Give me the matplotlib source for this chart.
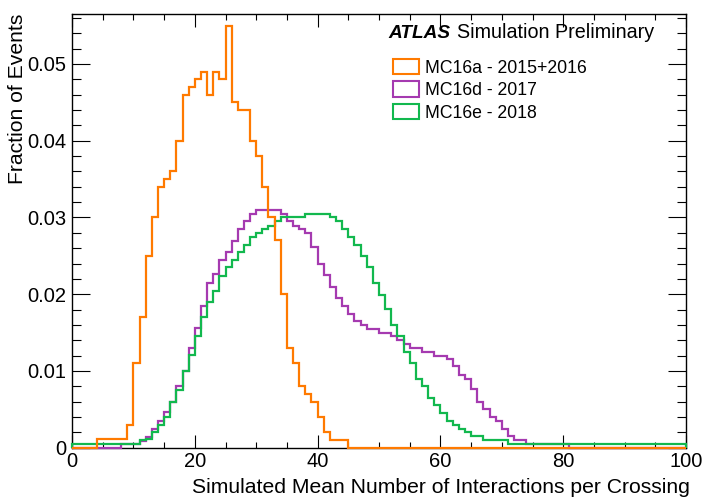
import numpy as np
import matplotlib.pyplot as plt
from matplotlib.patches import Patch
from matplotlib.ticker import MultipleLocator, FuncFormatter

plt.rcParams['font.family'] = ['Liberation Sans', 'DejaVu Sans']

# pileup profiles, one bin per unit of <mu>, 0..100
mu_edges = np.arange(0, 101, 1)

mc16a = [0, 0, 0, 0, 0.0011, 0.0011, 0.0011, 0.0011, 0.0011, 0.0030,
         0.0110, 0.0170, 0.0250, 0.0300, 0.0340, 0.0350, 0.0360, 0.0400, 0.0460, 0.0470,
         0.0480, 0.0490, 0.0460, 0.0490, 0.0480, 0.0550, 0.0450, 0.0440, 0.0440, 0.0400,
         0.0380, 0.0340, 0.0300, 0.0270, 0.0200, 0.0130, 0.0110, 0.0081, 0.0070, 0.0060,
         0.0040, 0.0020, 0.0010, 0.0010, 0.0010, 0, 0, 0, 0, 0,
         0, 0, 0, 0, 0, 0, 0, 0, 0, 0,
         0, 0, 0, 0, 0, 0, 0, 0, 0, 0,
         0, 0, 0, 0, 0, 0, 0, 0, 0, 0,
         0, 0, 0, 0, 0, 0, 0, 0, 0, 0,
         0, 0, 0, 0, 0, 0, 0, 0, 0, 0]

mc16d = [0, 0, 0, 0, 0, 0, 0, 0, 0.0005, 0.0005,
         0.0005, 0.0009, 0.0014, 0.0025, 0.0035, 0.0046, 0.0060, 0.0081, 0.0100, 0.0130,
         0.0156, 0.0185, 0.0214, 0.0226, 0.0244, 0.0255, 0.0269, 0.0285, 0.0295, 0.0305,
         0.0310, 0.0310, 0.0310, 0.0310, 0.0305, 0.0295, 0.0289, 0.0285, 0.0280, 0.0261,
         0.0240, 0.0225, 0.0210, 0.0195, 0.0185, 0.0174, 0.0165, 0.0160, 0.0155, 0.0155,
         0.0150, 0.0150, 0.0145, 0.0140, 0.0135, 0.0130, 0.0130, 0.0125, 0.0125, 0.0120,
         0.0120, 0.0115, 0.0106, 0.0095, 0.0090, 0.0076, 0.0060, 0.0050, 0.0040, 0.0035,
         0.0025, 0.0015, 0.0010, 0.0010, 0.0005, 0.0005, 0.0005, 0.0005, 0.0005, 0.0005,
         0.0005, 0, 0, 0, 0, 0, 0, 0, 0, 0,
         0, 0, 0, 0, 0, 0, 0, 0, 0, 0]

mc16e = [0.0005, 0.0005, 0.0005, 0.0005, 0.0005, 0.0005, 0.0005, 0.0005, 0.0005, 0.0005,
         0.0005, 0.0010, 0.0011, 0.0021, 0.0030, 0.0040, 0.0059, 0.0075, 0.0100, 0.0121,
         0.0146, 0.0170, 0.0190, 0.0204, 0.0224, 0.0235, 0.0245, 0.0255, 0.0264, 0.0274,
         0.0280, 0.0285, 0.0289, 0.0295, 0.0300, 0.0300, 0.0300, 0.0300, 0.0305, 0.0305,
         0.0305, 0.0305, 0.0300, 0.0295, 0.0285, 0.0275, 0.0264, 0.0250, 0.0235, 0.0215,
         0.0199, 0.0181, 0.0160, 0.0145, 0.0125, 0.0110, 0.0090, 0.0080, 0.0065, 0.0055,
         0.0045, 0.0035, 0.0030, 0.0024, 0.0020, 0.0015, 0.0015, 0.0010, 0.0010, 0.0010,
         0.0010, 0.0005, 0.0005, 0.0005, 0.0005, 0.0005, 0.0005, 0.0005, 0.0005, 0.0005,
         0.0005, 0.0005, 0.0005, 0.0005, 0.0005, 0.0005, 0.0005, 0.0005, 0.0005, 0.0005,
         0.0005, 0.0005, 0.0005, 0.0005, 0.0005, 0.0005, 0.0005, 0.0005, 0.0005, 0.0005]

labels = ['MC16a - 2015+2016', 'MC16d - 2017', 'MC16e - 2018']
colors = ['#ff7a00', '#a53ab0', '#12b84e']

fig = plt.figure(figsize=(7.02, 4.99), dpi=100)
ax = fig.add_axes([0.1026, 0.1028, 0.8746, 0.869])

# purple first, then green, orange on top
ax.stairs(mc16d, mu_edges, baseline=0, color=colors[1], lw=1.6, clip_on=False, zorder=3)
ax.stairs(mc16e, mu_edges, baseline=0, color=colors[2], lw=1.6, clip_on=False, zorder=4)
ax.stairs(mc16a, mu_edges, baseline=0, color=colors[0], lw=1.6, clip_on=False, zorder=5)

ax.set_xlim(0, 100)
ax.set_ylim(0, 0.0565)

ax.xaxis.set_major_locator(MultipleLocator(20))
ax.xaxis.set_minor_locator(MultipleLocator(5))
ax.yaxis.set_major_locator(MultipleLocator(0.01))
ax.yaxis.set_minor_locator(MultipleLocator(0.002))
ax.yaxis.set_major_formatter(FuncFormatter(lambda v, p: '0' if abs(v) < 1e-9 else f'{v:.2f}'))

ax.tick_params(which='both', direction='in', top=True, right=True, width=0.8, labelsize=14.5)
ax.tick_params(axis='x', which='major', length=9.5, pad=3)
ax.tick_params(axis='x', which='minor', length=4.5)
ax.tick_params(axis='y', which='major', length=13, pad=4)
ax.tick_params(axis='y', which='minor', length=6.5)
for sp in ax.spines.values():
    sp.set_linewidth(1.0)

ax.set_xlabel('Simulated Mean Number of Interactions per Crossing', fontsize=15.2, ha='right', va='top')
ax.xaxis.set_label_coords(1.0065, -0.07)
ax.set_ylabel('Fraction of Events', fontsize=15.2, ha='right', va='center')
ax.yaxis.set_label_coords(-0.088, 1.0)

fig.text(388 / 702, 1 - 33 / 499, 'ATLAS', fontsize=13.7, weight='bold', style='italic', va='center')
fig.text(457 / 702, 1 - 33 / 499, 'Simulation Preliminary', fontsize=14.2, va='center')

handles = [Patch(facecolor='none', edgecolor=c, linewidth=1.5) for c in colors]
ax.legend(handles, labels, loc='upper left', bbox_to_anchor=(393 / 702, 1 - 59 / 499),
          bbox_transform=fig.transFigure, frameon=False, fontsize=12.7,
          handlelength=1.5, handleheight=0.95, handletextpad=0.3,
          labelspacing=0.27, borderpad=0, borderaxespad=0)

fig.savefig('out.png', dpi=100)
